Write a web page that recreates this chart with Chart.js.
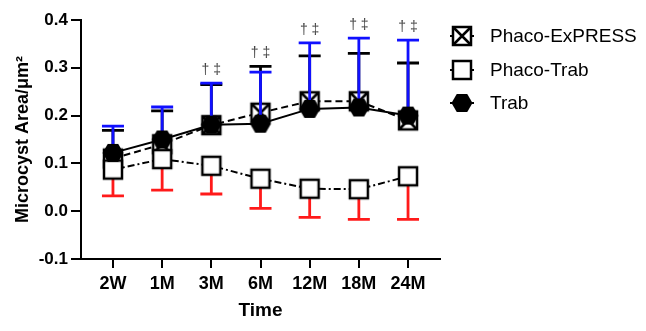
<!DOCTYPE html>
<html>
<head>
<meta charset="utf-8">
<script src="https://cdn.jsdelivr.net/npm/chart.js@4"></script>
<style>
  html, body { margin: 0; padding: 0; background: #fff; }
</style>
</head>
<body>
<canvas id="myChart" width="646" height="331"></canvas>
<script>
// values
const timeLabels = ['2W', '1M', '3M', '6M', '12M', '18M', '24M'];
const yTicks = [-0.1, 0, 0.1, 0.2, 0.3, 0.4];

const trabMean = [0.122, 0.150, 0.181, 0.183, 0.214, 0.217, 0.200];
const trabSD = [0.056, 0.068, 0.087, 0.108, 0.138, 0.145, 0.158];

const expressMean = [0.110, 0.140, 0.180, 0.206, 0.230, 0.230, 0.190];
const expressSD = [0.059, 0.070, 0.085, 0.097, 0.095, 0.100, 0.120];

const phacoTrabMean = [0.087, 0.109, 0.095, 0.068, 0.047, 0.046, 0.073];
const phacoTrabSD = [0.055, 0.065, 0.059, 0.062, 0.060, 0.063, 0.090];

const sigMarks = ['', '', '† ‡', '† ‡', '† ‡', '† ‡', '† ‡'];

const FONT = 'Liberation Sans, Arial, sans-serif';

function drawMarker(c, type, cx, cy) {
    c.save();
    c.lineWidth = 2.5;
    c.strokeStyle = '#000';
    c.setLineDash([]);
    if (type === 'hex') {
        const w = 10.5, h = 9;
        c.beginPath();
        c.moveTo(cx - w, cy);
        c.lineTo(cx - w / 2, cy - h);
        c.lineTo(cx + w / 2, cy - h);
        c.lineTo(cx + w, cy);
        c.lineTo(cx + w / 2, cy + h);
        c.lineTo(cx - w / 2, cy + h);
        c.closePath();
        c.fillStyle = '#000';
        c.fill();
    } else {
        const s = 9;
        c.fillStyle = '#fff';
        c.fillRect(cx - s, cy - s, 2 * s, 2 * s);
        c.strokeRect(cx - s, cy - s, 2 * s, 2 * s);
        if (type === 'xbox') {
            c.beginPath();
            c.moveTo(cx - s, cy - s); c.lineTo(cx + s, cy + s);
            c.moveTo(cx + s, cy - s); c.lineTo(cx - s, cy + s);
            c.stroke();
        }
    }
    c.restore();
}

function markerImage(type) {
    const cv = document.createElement('canvas');
    cv.width = 26; cv.height = 26;
    drawMarker(cv.getContext('2d'), type, 13, 13);
    return cv;
}

function toPoints(arr) {
    return arr.map((v, i) => ({ x: i, y: v }));
}

// error bars, drawn just before each dataset so markers sit on top
const errorBars = {
    id: 'errorBars',
    beforeDatasetDraw(chart, args) {
        const ds = chart.data.datasets[args.index];
        if (!ds.errors) return;
        const ctx = chart.ctx, xs = chart.scales.x, ys = chart.scales.y;
        ctx.save();
        ctx.strokeStyle = ds.errColor;
        ctx.lineWidth = 2.8;
        ds.data.forEach((p, i) => {
            const px = xs.getPixelForValue(p.x);
            const py0 = ys.getPixelForValue(p.y);
            const py1 = ys.getPixelForValue(p.y + ds.errDir * ds.errors[i]);
            ctx.beginPath();
            ctx.moveTo(px, py0); ctx.lineTo(px, py1);
            ctx.moveTo(px - 11, py1); ctx.lineTo(px + 11, py1);
            ctx.stroke();
        });
        ctx.restore();
    }
};

// † ‡ marks above the highest cap
const sigLabels = {
    id: 'sigLabels',
    afterDatasetsDraw(chart) {
        const ctx = chart.ctx, xs = chart.scales.x, ys = chart.scales.y;
        ctx.save();
        ctx.font = '14px ' + FONT;
        ctx.fillStyle = '#444';
        ctx.textAlign = 'center';
        ctx.textBaseline = 'middle';
        sigMarks.forEach((m, i) => {
            if (!m) return;
            const top = Math.max(trabMean[i] + trabSD[i], expressMean[i] + expressSD[i]);
            ctx.fillText(m, xs.getPixelForValue(i), ys.getPixelForValue(top) - 13);
        });
        ctx.restore();
    }
};

// GraphPad style legend on the right
const sideLegend = {
    id: 'sideLegend',
    afterDraw(chart) {
        const ctx = chart.ctx;
        const rows = [
            { name: 'Phaco-ExPRESS', type: 'xbox' },
            { name: 'Phaco-Trab', type: 'box' },
            { name: 'Trab', type: 'hex' }
        ];
        const x0 = 462, ys = [36, 70, 103];
        ctx.save();
        rows.forEach((r, i) => {
            const y = ys[i];
            ctx.strokeStyle = '#000';
            ctx.lineWidth = 2;
            ctx.beginPath();
            ctx.moveTo(x0 - 12, y); ctx.lineTo(x0 + 12, y);
            ctx.stroke();
            drawMarker(ctx, r.type, x0, y);
            ctx.fillStyle = '#000';
            ctx.font = '19px ' + FONT;
            ctx.textAlign = 'left';
            ctx.textBaseline = 'middle';
            ctx.fillText(r.name, 490, y + 1);
        });
        ctx.restore();
    }
};

const ctx = document.getElementById('myChart').getContext('2d');
const myChart = new Chart(ctx, {
    type: 'line',
    data: {
        datasets: [{
            label: 'Trab',
            data: toPoints(trabMean),
            borderColor: '#000',
            borderWidth: 2,
            pointStyle: markerImage('hex'),
            errors: trabSD, errDir: 1, errColor: '#1010ff'
        }, {
            label: 'Phaco-Trab',
            data: toPoints(phacoTrabMean),
            borderColor: '#000',
            borderWidth: 2,
            borderDash: [7, 3, 2, 3],
            pointStyle: markerImage('box'),
            errors: phacoTrabSD, errDir: -1, errColor: '#ff1a1a'
        }, {
            label: 'Phaco-ExPRESS',
            data: toPoints(expressMean),
            borderColor: '#000',
            borderWidth: 2,
            borderDash: [7, 4],
            pointStyle: markerImage('xbox'),
            errors: expressSD, errDir: 1, errColor: '#000'
        }]
    },
    options: {
        responsive: false,
        animation: false,
        devicePixelRatio: 1,
        layout: { padding: { top: 20, right: 206, bottom: 0, left: 0 } },
        plugins: { legend: { display: false }, tooltip: { enabled: false } },
        scales: {
            x: {
                type: 'linear',
                min: -0.65,
                max: 6.65,
                afterBuildTicks: (s) => { s.ticks = timeLabels.map((_, i) => ({ value: i })); },
                afterFit: (s) => { s.height = 72; },
                grid: { drawOnChartArea: false, color: '#000', lineWidth: 2, tickLength: 9 },
                border: { color: '#000', width: 2 },
                ticks: {
                    color: '#000',
                    font: { family: FONT, size: 18, weight: 'bold' },
                    padding: 5,
                    maxRotation: 0,
                    autoSkip: false,
                    callback: (v) => timeLabels[v]
                },
                title: {
                    display: true,
                    text: 'Time',
                    color: '#000',
                    font: { family: FONT, size: 19, weight: 'bold' },
                    padding: { top: 0, bottom: 9 }
                }
            },
            y: {
                min: -0.1,
                max: 0.4,
                afterBuildTicks: (s) => { s.ticks = yTicks.map((v) => ({ value: v })); },
                afterFit: (s) => { s.width = 81; },
                grid: { drawOnChartArea: false, color: '#000', lineWidth: 2, tickLength: 10 },
                border: { color: '#000', width: 2 },
                ticks: {
                    color: '#000',
                    font: { family: FONT, size: 17, weight: 'bold' },
                    padding: 3,
                    callback: (v) => v.toFixed(1)
                },
                title: {
                    display: true,
                    text: 'Microcyst Area/μm²',
                    color: '#000',
                    font: { family: FONT, size: 18, weight: 'bold' },
                    padding: { top: 12, bottom: 0 }
                }
            }
        }
    },
    plugins: [errorBars, sigLabels, sideLegend]
});
</script>
</body>
</html>
